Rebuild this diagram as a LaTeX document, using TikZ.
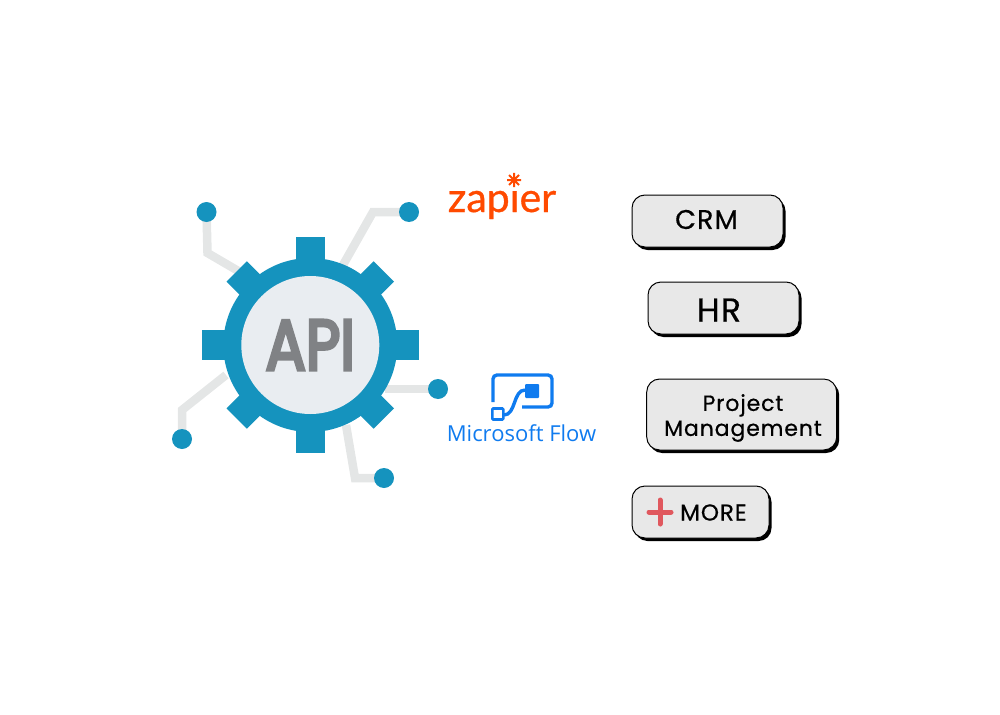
\documentclass[tikz,border=0pt]{standalone}
\usepackage{fontspec}
\setmainfont{Poppins}
\newfontfamily\btnfont[LetterSpace=4, FakeBold=0.5]{Poppins}
\newfontfamily\apifont[FakeBold=5]{Poppins}
\newfontfamily\zapfont[FakeBold=0.8]{Lato}
\newfontfamily\flowfont{Open Sans}
\usetikzlibrary{shadows, backgrounds}
\definecolor{gearblue}{RGB}{21, 147, 190}
\definecolor{hubgrey}{RGB}{233, 237, 241}
\definecolor{leadgrey}{RGB}{228, 230, 230}
\definecolor{apigrey}{RGB}{128, 130, 133}
\definecolor{zaporange}{RGB}{255, 74, 0}
\definecolor{flowblue}{RGB}{15, 123, 239}
\definecolor{buttongrey}{RGB}{232, 232, 232}
\definecolor{plusred}{RGB}{224, 88, 94}
\tikzset{
  lead/.style={draw=leadgrey, line width=8.5pt},
  pin/.style={circle, fill=gearblue, minimum size=20pt, inner sep=0pt},
  tooth/.style={fill=gearblue},
  button/.style={draw=black, line width=1pt, fill=buttongrey, rounded corners=13pt,
    inner sep=0pt,
    drop shadow={fill=black, opacity=1, shadow xshift=2.5pt, shadow yshift=-3pt}},
  btntext/.style={inner sep=0pt, align=center, text=black},
  flowline/.style={draw=flowblue, line width=3.4pt}
}
\begin{document}
\begin{tikzpicture}[x=1pt, y=-1pt]
        \useasboundingbox (0,0) rectangle (1000,714);

        \coordinate (C) at (310.3,345);

        \coordinate (L1) at (207.5,253);
        \coordinate (L2) at (240,272);
        \coordinate (L3) at (373,212);
        \coordinate (L4) at (343,265);
        \coordinate (L5) at (385,389);
        \coordinate (L6) at (355,478);
        \coordinate (L7) at (346,425);
        \coordinate (L8) at (182,410);
        \coordinate (L9) at (226,375);

        \node[pin] (pinA) at (206.5,212) {};
        \node[pin] (pinB) at (409,212) {};
        \node[pin] (pinC) at (438,389) {};
        \node[pin] (pinD) at (384,478) {};
        \node[pin] (pinE) at (182,439) {};

        \begin{pgfonlayer}{background}
          \draw[lead] (pinA.center)--(L1)--(L2);
          \draw[lead] (pinB.center)--(L3)--(L4);
          \draw[lead] (pinC.center)--(L5);
          \draw[lead] (pinD.center)--(L6)--(L7);
          \draw[lead] (pinE.center)--(L8)--(L9);
        \end{pgfonlayer}

        \fill[tooth] (295.6,236.7) rectangle (325,453.3);
        \fill[tooth] (201.7,330.3) rectangle (419,359.7);
        \fill[tooth, rotate around={45:(C)}] (295.9,241) rectangle (324.7,449);
        \fill[tooth, rotate around={-45:(C)}] (295.9,241) rectangle (324.7,449);

        \node[circle, fill=gearblue, minimum size=174pt, inner sep=0pt] (gear) at (C) {};
        \node[circle, fill=hubgrey, minimum size=138pt, inner sep=0pt] (hub) at (C) {};
        \node[text=apigrey, xscale=.84, font=\apifont\fontsize{71}{71}\selectfont] (api) at (C) {API};

        \node[text=zaporange, anchor=base, font=\zapfont\fontsize{41}{41}\selectfont] (zapier) at (502,212) {zapier};
        \fill[white] (514,180) circle (9);
        \draw[zaporange, line width=2pt] (507,180)--(521,180) (514,173)--(514,187)
          (509,175)--(519,185) (519,175)--(509,185);

        \node[text=flowblue, anchor=base, font=\flowfont\fontsize{22}{22}\selectfont] (flow) at (521.5,441) {Microsoft Flow};
        \draw[flowline, rounded corners=4pt] (493,402)--(493,375)--(552,375)--(552,407)--(522,407);
        \draw[flowline] (504,415) .. controls (516,415) and (513,390) .. (525,390);
        \node[draw=flowblue, line width=2.6pt, fill=white, minimum size=11pt, inner sep=0pt, rounded corners=1pt] (flowsmall) at (497.8,414) {};
        \node[fill=flowblue, minimum size=14pt, inner sep=0pt, rounded corners=1pt] (flowbig) at (532,391) {};

        \node[button, minimum width=151pt, minimum height=52pt] (crm) at (707.5,221) {};
        \node[button, minimum width=151pt, minimum height=52pt] (hr) at (723.5,308) {};
        \node[button, minimum width=190pt, minimum height=71pt] (pm) at (741.7,414.5) {};
        \node[button, minimum width=137pt, minimum height=52pt] (more) at (700.5,512) {};

        \node[btntext, font=\btnfont\fontsize{27}{27}\selectfont] (crmtext) at (706.5,219.5) {CRM};
        \node[btntext, font=\btnfont\fontsize{33}{33}\selectfont] (hrtext) at (719,310) {HR};
        \node[btntext, font=\btnfont\fontsize{22}{25}\selectfont] (pmtext) at (743,418) {Project\\Management};
        \node[btntext, anchor=west, font=\btnfont\fontsize{23}{23}\selectfont] (moretext) at (680,512.5) {MORE};
        \draw[plusred, line width=5pt, line cap=round] (649,512)--(671,512) (660,500)--(660,524);
      \end{tikzpicture}
\end{document}
